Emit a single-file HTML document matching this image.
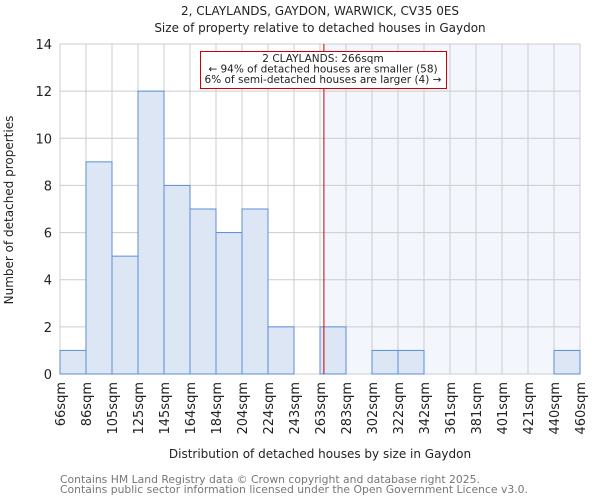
<!DOCTYPE html>
<html><head><meta charset="utf-8"><style>
body{margin:0;background:#fff}
svg{display:block;font-family:"DejaVu Sans","Liberation Sans",sans-serif}
</style></head><body>
<svg id="c" width="600" height="500">
<text x="320" y="15" text-anchor="middle" font-size="12" fill="#222">2, CLAYLANDS, GAYDON, WARWICK, CV35 0ES</text>
<text x="320" y="32" text-anchor="middle" font-size="12" fill="#222">Size of property relative to detached houses in Gaydon</text>
<text transform="translate(13,210) rotate(-90)" text-anchor="middle" font-size="12" fill="#222">Number of detached properties</text>
<text x="320" y="458" text-anchor="middle" font-size="12" fill="#222">Distribution of detached houses by size in Gaydon</text>
<text x="60" y="483" font-size="10.8" fill="#777">Contains HM Land Registry data © Crown copyright and database right 2025.</text>
<text x="60" y="493" font-size="10.8" fill="#777">Contains public sector information licensed under the Open Government Licence v3.0.</text>
<g id="plot"></g>
</svg>
<script>
const binEdges=[66,86,105,125,145,164,184,204,224,243,263,283,302,322,342,361,381,401,421,440,460];
const counts=[1,9,5,12,8,7,6,7,2,0,2,0,1,1,0,0,0,0,0,1];
const yTicks=[0,2,4,6,8,10,12,14];
const markerValue=266;
const annotationLines=["2 CLAYLANDS: 266sqm","← 94% of detached houses are smaller (58)","6% of semi-detached houses are larger (4) →"];
const X0=60,X1=580,Y0=374,Y1=44,N=counts.length;
const bw=(X1-X0)/N;
function xi(i){return X0+i*bw;}
function xv(v){for(let i=0;i<binEdges.length-1;i++){if(v<=binEdges[i+1])return xi(i)+(v-binEdges[i])/(binEdges[i+1]-binEdges[i])*bw;}return X1;}
function y(v){return Y0-(v/14)*(Y0-Y1);}
const g=document.getElementById('plot');const NS='http://www.w3.org/2000/svg';
function mk(t,a,p){const e=document.createElementNS(NS,t);for(const k in a)e.setAttribute(k,a[k]);(p||g).appendChild(e);return e;}
const mx=xv(markerValue);
const hl=mk('rect',{x:mx,y:Y1,width:X1-mx,height:Y0-Y1,fill:'#f3f6fc'});


for(let i=0;i<=N;i++){const l=mk('line',{x1:xi(i),x2:xi(i),y1:Y1,y2:Y0,stroke:'#ccc','stroke-width':1});

}
yTicks.forEach(t=>{const l=mk('line',{x1:X0,x2:X1,y1:y(t),y2:y(t),stroke:'#ccc','stroke-width':1});


const tx=mk('text',{x:X0-8,y:y(t)+5,'text-anchor':'end','font-size':13,fill:'#222'});tx.textContent=t;

});
counts.forEach((c,i)=>{if(c<=0)return;const r=mk('rect',{x:xi(i),y:y(c),width:bw,height:Y0-y(c),fill:'#dce6f4',stroke:'#5b8fd6','stroke-width':1});

});
binEdges.forEach((b,i)=>{const tx=mk('text',{transform:`translate(${xi(i)+5},382) rotate(-90)`,'text-anchor':'end','font-size':13,fill:'#222'});tx.textContent=b+'sqm';

});
const ml=mk('line',{x1:mx,x2:mx,y1:Y1,y2:Y0,stroke:'#cc0000','stroke-width':1});


const ab=mk('rect',{x:200.5,y:51.5,width:246,height:37,fill:'#fff',stroke:'#cc0000','stroke-width':1});


annotationLines.forEach((s,i)=>{const tx=mk('text',{x:323,y:62+i*10.5,'text-anchor':'middle','font-size':10.5,fill:'#222'});tx.textContent=s;

});
</script>
</body></html>
